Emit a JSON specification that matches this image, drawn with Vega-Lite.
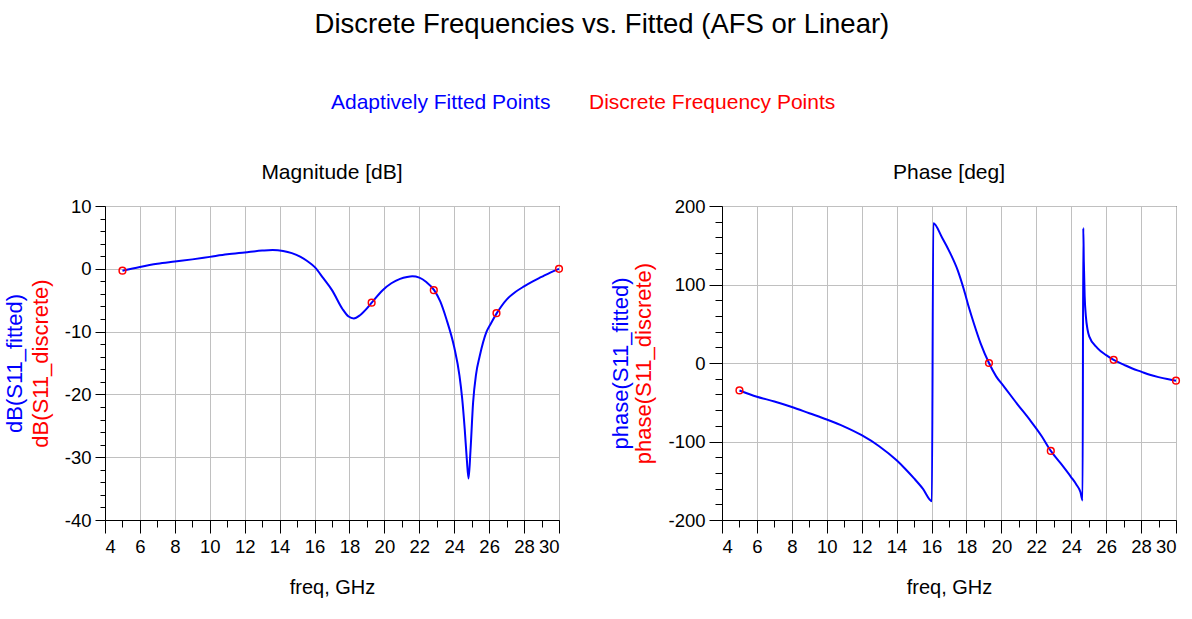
{
  "$schema": "https://vega.github.io/schema/vega-lite/v6.json",
  "padding": {"left": 3, "top": 10, "right": 5, "bottom": 5},
  "title": {"text": "Discrete Frequencies vs. Fitted (AFS or Linear)", "fontSize": 27.5, "font": "Liberation Sans", "fontWeight": "normal", "color": "#000000", "anchor": "middle", "offset": 54, "dx": 9},
  "config": {
    "font": "Liberation Sans",
    "view": {"stroke": "#000000", "strokeWidth": 1},
    "axis": {"labelFont": "Liberation Sans", "titleFont": "Liberation Sans", "labelFontSize": 18.5, "labelColor": "#000000", "titleFontWeight": "normal", "tickColor": "#000000", "domainColor": "#000000", "gridColor": "#c0c0c0", "gridOpacity": 1, "gridWidth": 1, "labelPadding": 4, "labelExpr": "datum.value + ''"},
    "axisX": {"titleFontSize": 20, "titleColor": "#000000"},
    "axisY": {"titleFontSize": 22},
    "title": {"font": "Liberation Sans", "fontSize": 21, "fontWeight": "normal", "color": "#000000"}
  },
  "datasets": {
    "magFit": [
      {"freq": 5, "value": -0.3, "series": "Adaptively Fitted Points"},
      {"freq": 6, "value": 0.3, "series": "Adaptively Fitted Points"},
      {"freq": 7, "value": 0.8, "series": "Adaptively Fitted Points"},
      {"freq": 8, "value": 1.15, "series": "Adaptively Fitted Points"},
      {"freq": 9, "value": 1.5, "series": "Adaptively Fitted Points"},
      {"freq": 10, "value": 1.9, "series": "Adaptively Fitted Points"},
      {"freq": 11, "value": 2.3, "series": "Adaptively Fitted Points"},
      {"freq": 12, "value": 2.6, "series": "Adaptively Fitted Points"},
      {"freq": 13, "value": 2.9, "series": "Adaptively Fitted Points"},
      {"freq": 13.6, "value": 3.0, "series": "Adaptively Fitted Points"},
      {"freq": 14.2, "value": 2.85, "series": "Adaptively Fitted Points"},
      {"freq": 14.7, "value": 2.5, "series": "Adaptively Fitted Points"},
      {"freq": 15.2, "value": 1.9, "series": "Adaptively Fitted Points"},
      {"freq": 15.6, "value": 1.2, "series": "Adaptively Fitted Points"},
      {"freq": 16, "value": 0.3, "series": "Adaptively Fitted Points"},
      {"freq": 16.5, "value": -1.5, "series": "Adaptively Fitted Points"},
      {"freq": 17, "value": -3.4, "series": "Adaptively Fitted Points"},
      {"freq": 17.6, "value": -6.4, "series": "Adaptively Fitted Points"},
      {"freq": 17.95, "value": -7.6, "series": "Adaptively Fitted Points"},
      {"freq": 18.25, "value": -7.9, "series": "Adaptively Fitted Points"},
      {"freq": 18.6, "value": -7.4, "series": "Adaptively Fitted Points"},
      {"freq": 19.0, "value": -6.3, "series": "Adaptively Fitted Points"},
      {"freq": 19.3, "value": -5.3, "series": "Adaptively Fitted Points"},
      {"freq": 19.9, "value": -3.4, "series": "Adaptively Fitted Points"},
      {"freq": 20.4, "value": -2.3, "series": "Adaptively Fitted Points"},
      {"freq": 20.9, "value": -1.6, "series": "Adaptively Fitted Points"},
      {"freq": 21.3, "value": -1.3, "series": "Adaptively Fitted Points"},
      {"freq": 21.6, "value": -1.2, "series": "Adaptively Fitted Points"},
      {"freq": 22.0, "value": -1.4, "series": "Adaptively Fitted Points"},
      {"freq": 22.4, "value": -2.1, "series": "Adaptively Fitted Points"},
      {"freq": 22.85, "value": -3.4, "series": "Adaptively Fitted Points"},
      {"freq": 23.2, "value": -5.2, "series": "Adaptively Fitted Points"},
      {"freq": 23.55, "value": -8.0, "series": "Adaptively Fitted Points"},
      {"freq": 24.0, "value": -12.5, "series": "Adaptively Fitted Points"},
      {"freq": 24.3, "value": -17, "series": "Adaptively Fitted Points"},
      {"freq": 24.45, "value": -20.5, "series": "Adaptively Fitted Points"},
      {"freq": 24.6, "value": -25.5, "series": "Adaptively Fitted Points"},
      {"freq": 24.72, "value": -30.3, "series": "Adaptively Fitted Points"},
      {"freq": 24.82, "value": -33.4, "series": "Adaptively Fitted Points"},
      {"freq": 24.93, "value": -29, "series": "Adaptively Fitted Points"},
      {"freq": 25.08, "value": -21.3, "series": "Adaptively Fitted Points"},
      {"freq": 25.25, "value": -16.8, "series": "Adaptively Fitted Points"},
      {"freq": 25.46, "value": -13.9, "series": "Adaptively Fitted Points"},
      {"freq": 25.84, "value": -10.1, "series": "Adaptively Fitted Points"},
      {"freq": 26.1, "value": -8.7, "series": "Adaptively Fitted Points"},
      {"freq": 26.43, "value": -7.1, "series": "Adaptively Fitted Points"},
      {"freq": 27, "value": -4.9, "series": "Adaptively Fitted Points"},
      {"freq": 27.5, "value": -3.7, "series": "Adaptively Fitted Points"},
      {"freq": 28, "value": -2.8, "series": "Adaptively Fitted Points"},
      {"freq": 28.5, "value": -2.0, "series": "Adaptively Fitted Points"},
      {"freq": 29, "value": -1.3, "series": "Adaptively Fitted Points"},
      {"freq": 29.5, "value": -0.6, "series": "Adaptively Fitted Points"},
      {"freq": 30, "value": 0, "series": "Adaptively Fitted Points"}
    ],
    "magDisc": [
      {"freq": 5, "value": -0.3, "series": "Discrete Frequency Points"},
      {"freq": 19.27, "value": -5.4, "series": "Discrete Frequency Points"},
      {"freq": 22.83, "value": -3.4, "series": "Discrete Frequency Points"},
      {"freq": 26.42, "value": -7.06, "series": "Discrete Frequency Points"},
      {"freq": 30, "value": 0, "series": "Discrete Frequency Points"}
    ],
    "phFit": [
      {"freq": 5, "value": -35, "series": "Adaptively Fitted Points"},
      {"freq": 6, "value": -43, "series": "Adaptively Fitted Points"},
      {"freq": 7, "value": -49, "series": "Adaptively Fitted Points"},
      {"freq": 8, "value": -56, "series": "Adaptively Fitted Points"},
      {"freq": 9, "value": -64, "series": "Adaptively Fitted Points"},
      {"freq": 10, "value": -72, "series": "Adaptively Fitted Points"},
      {"freq": 11, "value": -81, "series": "Adaptively Fitted Points"},
      {"freq": 12, "value": -92, "series": "Adaptively Fitted Points"},
      {"freq": 13, "value": -106, "series": "Adaptively Fitted Points"},
      {"freq": 14, "value": -124, "series": "Adaptively Fitted Points"},
      {"freq": 14.5, "value": -135, "series": "Adaptively Fitted Points"},
      {"freq": 15, "value": -147, "series": "Adaptively Fitted Points"},
      {"freq": 15.5, "value": -160, "series": "Adaptively Fitted Points"},
      {"freq": 16.02, "value": -176, "series": "Adaptively Fitted Points"},
      {"freq": 16.1, "value": 178, "series": "Adaptively Fitted Points"},
      {"freq": 16.6, "value": 160, "series": "Adaptively Fitted Points"},
      {"freq": 17.09, "value": 139, "series": "Adaptively Fitted Points"},
      {"freq": 17.5, "value": 118, "series": "Adaptively Fitted Points"},
      {"freq": 17.86, "value": 93, "series": "Adaptively Fitted Points"},
      {"freq": 18.15, "value": 70, "series": "Adaptively Fitted Points"},
      {"freq": 18.43, "value": 50, "series": "Adaptively Fitted Points"},
      {"freq": 18.81, "value": 25, "series": "Adaptively Fitted Points"},
      {"freq": 19.29, "value": 0, "series": "Adaptively Fitted Points"},
      {"freq": 19.7, "value": -17, "series": "Adaptively Fitted Points"},
      {"freq": 20.15, "value": -30, "series": "Adaptively Fitted Points"},
      {"freq": 20.9, "value": -52, "series": "Adaptively Fitted Points"},
      {"freq": 21.68, "value": -74, "series": "Adaptively Fitted Points"},
      {"freq": 22.3, "value": -93, "series": "Adaptively Fitted Points"},
      {"freq": 22.83, "value": -112, "series": "Adaptively Fitted Points"},
      {"freq": 23.4, "value": -128, "series": "Adaptively Fitted Points"},
      {"freq": 23.98, "value": -145, "series": "Adaptively Fitted Points"},
      {"freq": 24.3, "value": -155, "series": "Adaptively Fitted Points"},
      {"freq": 24.52, "value": -164, "series": "Adaptively Fitted Points"},
      {"freq": 24.65, "value": -175, "series": "Adaptively Fitted Points"},
      {"freq": 24.69, "value": 172, "series": "Adaptively Fitted Points"},
      {"freq": 24.72, "value": 130, "series": "Adaptively Fitted Points"},
      {"freq": 24.77, "value": 85, "series": "Adaptively Fitted Points"},
      {"freq": 24.84, "value": 59, "series": "Adaptively Fitted Points"},
      {"freq": 24.93, "value": 43, "series": "Adaptively Fitted Points"},
      {"freq": 25.03, "value": 34, "series": "Adaptively Fitted Points"},
      {"freq": 25.5, "value": 19, "series": "Adaptively Fitted Points"},
      {"freq": 26, "value": 10, "series": "Adaptively Fitted Points"},
      {"freq": 26.43, "value": 4, "series": "Adaptively Fitted Points"},
      {"freq": 27, "value": -2, "series": "Adaptively Fitted Points"},
      {"freq": 27.5, "value": -7, "series": "Adaptively Fitted Points"},
      {"freq": 28, "value": -11, "series": "Adaptively Fitted Points"},
      {"freq": 28.5, "value": -15, "series": "Adaptively Fitted Points"},
      {"freq": 29, "value": -18, "series": "Adaptively Fitted Points"},
      {"freq": 29.5, "value": -20.5, "series": "Adaptively Fitted Points"},
      {"freq": 30, "value": -22.5, "series": "Adaptively Fitted Points"}
    ],
    "phDisc": [
      {"freq": 5, "value": -35, "series": "Discrete Frequency Points"},
      {"freq": 19.29, "value": 0, "series": "Discrete Frequency Points"},
      {"freq": 22.83, "value": -112, "series": "Discrete Frequency Points"},
      {"freq": 26.43, "value": 4, "series": "Discrete Frequency Points"},
      {"freq": 30, "value": -22.5, "series": "Discrete Frequency Points"}
    ]
  },
  "spacing": 43,
  "hconcat": [
    {
      "width": 454,
      "height": 314,
      "title": {"text": "Magnitude [dB]", "offset": 14},
      "resolve": {"axis": {"x": "independent", "y": "independent"}},
      "layer": [
        {
          "data": {"name": "magFit"},
          "mark": {"type": "line", "strokeWidth": 2, "interpolate": "monotone"},
          "encoding": {
            "x": {"field": "freq", "type": "quantitative", "scale": {"domain": [4, 30], "nice": false, "zero": false},
              "axis": {"values": [4, 6, 8, 10, 12, 14, 16, 18, 20, 22, 24, 26, 28, 30], "title": "freq, GHz", "grid": true, "tickSize": 13, "titlePadding": 22}},
            "y": {"field": "value", "type": "quantitative", "scale": {"domain": [-40, 10], "nice": false, "zero": false},
              "axis": {"values": [-40, -30, -20, -10, 0, 10], "title": "dB(S11_discrete)", "titleColor": "#ff0000", "grid": true, "tickSize": 10, "titlePadding": 12}},
            "color": {"field": "series", "type": "nominal",
              "scale": {"domain": ["Adaptively Fitted Points", "Discrete Frequency Points"], "range": ["#0000ff", "#ff0000"]},
              "legend": {"orient": "none", "legendX": 205, "legendY": -114, "direction": "horizontal", "title": null, "labelFontSize": 21, "labelFont": "Liberation Sans", "labelLimit": 500,
                "labelColor": {"expr": "datum.label == 'Adaptively Fitted Points' ? '#0000ff' : '#ff0000'"},
                "symbolSize": 0, "symbolOpacity": 0, "symbolStrokeWidth": 0, "labelOffset": 0, "columnPadding": 17}}
          }
        },
        {
          "data": {"name": "magDisc"},
          "mark": {"type": "point", "shape": "circle", "filled": false, "size": 45, "strokeWidth": 1.5, "opacity": 1},
          "encoding": {
            "x": {"field": "freq", "type": "quantitative", "scale": {"domain": [4, 30], "nice": false, "zero": false},
              "axis": {"orient": "bottom", "values": [5, 7, 9, 11, 13, 15, 17, 19, 21, 23, 25, 27, 29], "labels": false, "grid": false, "domain": false, "tickSize": 7, "title": null}},
            "y": {"field": "value", "type": "quantitative", "scale": {"domain": [-40, 10], "nice": false, "zero": false},
              "axis": {"orient": "left", "values": [-38, -36, -34, -32, -28, -26, -24, -22, -18, -16, -14, -12, -8, -6, -4, -2, 2, 4, 6, 8], "labels": false, "grid": false, "domain": false, "tickSize": 5, "title": "dB(S11_fitted)", "titleColor": "#0000ff", "titlePadding": 73}},
            "color": {"field": "series", "type": "nominal"}
          }
        }
      ]
    },
    {
      "width": 454,
      "height": 314,
      "title": {"text": "Phase [deg]", "offset": 14},
      "resolve": {"axis": {"x": "independent", "y": "independent"}},
      "layer": [
        {
          "data": {"name": "phFit"},
          "mark": {"type": "line", "strokeWidth": 2, "interpolate": "monotone"},
          "encoding": {
            "x": {"field": "freq", "type": "quantitative", "scale": {"domain": [4, 30], "nice": false, "zero": false},
              "axis": {"values": [4, 6, 8, 10, 12, 14, 16, 18, 20, 22, 24, 26, 28, 30], "title": "freq, GHz", "grid": true, "tickSize": 13, "titlePadding": 22}},
            "y": {"field": "value", "type": "quantitative", "scale": {"domain": [-200, 200], "nice": false, "zero": false},
              "axis": {"values": [-200, -100, 0, 100, 200], "title": "phase(S11_discrete)", "titleColor": "#ff0000", "grid": true, "tickSize": 13, "titlePadding": 12}},
            "color": {"field": "series", "type": "nominal"}
          }
        },
        {
          "data": {"name": "phDisc"},
          "mark": {"type": "point", "shape": "circle", "filled": false, "size": 45, "strokeWidth": 1.5, "opacity": 1},
          "encoding": {
            "x": {"field": "freq", "type": "quantitative", "scale": {"domain": [4, 30], "nice": false, "zero": false},
              "axis": {"orient": "bottom", "values": [5, 7, 9, 11, 13, 15, 17, 19, 21, 23, 25, 27, 29], "labels": false, "grid": false, "domain": false, "tickSize": 7, "title": null}},
            "y": {"field": "value", "type": "quantitative", "scale": {"domain": [-200, 200], "nice": false, "zero": false},
              "axis": {"orient": "left", "values": [-180, -160, -140, -120, -80, -60, -40, -20, 20, 40, 60, 80, 120, 140, 160, 180], "labels": false, "grid": false, "domain": false, "tickSize": 7, "title": "phase(S11_fitted)", "titleColor": "#0000ff", "titlePadding": 82}},
            "color": {"field": "series", "type": "nominal"}
          }
        }
      ]
    }
  ]
}
